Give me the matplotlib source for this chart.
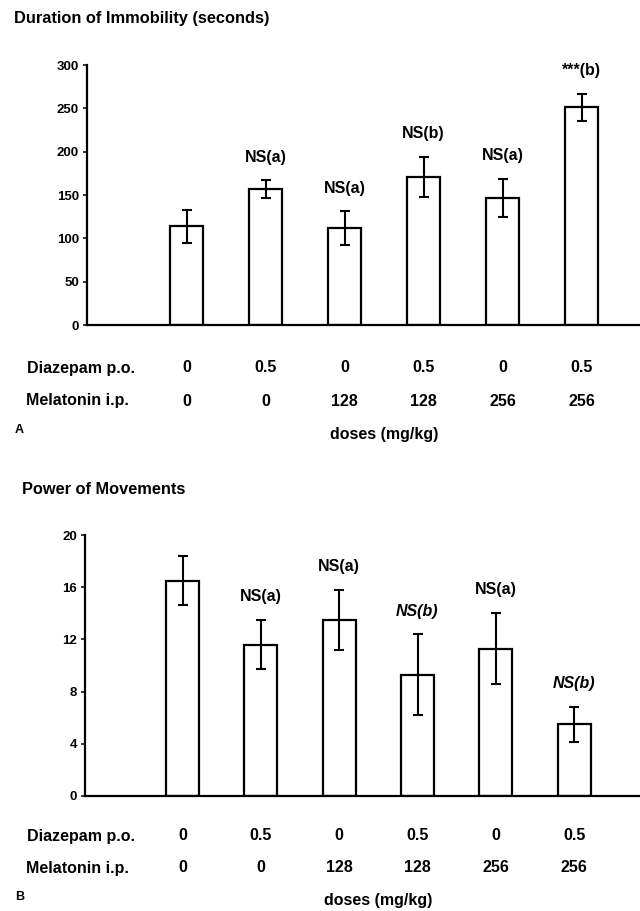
import matplotlib
matplotlib.use('Agg')
import matplotlib.pyplot as plt
from matplotlib import transforms

plt.rcParams['font.family'] = ['Liberation Sans', 'DejaVu Sans']
plt.rcParams['font.weight'] = 'bold'

# dose table (same for both panels)
diazepam = ['0', '0.5', '0', '0.5', '0', '0.5']
melatonin = ['0', '0', '128', '128', '256', '256']

# panel A: duration of immobility (seconds)
immobility = [114, 157, 112, 171, 147, 251]
immobility_err = [19, 10, 19.5, 23, 22, 16]
immobility_sig = ['', 'NS(a)', 'NS(a)', 'NS(b)', 'NS(a)', '***(b)']

# panel B: power of movements
power = [16.5, 11.6, 13.5, 9.3, 11.3, 5.5]
power_err = [1.9, 1.9, 2.3, 3.1, 2.75, 1.35]
power_sig = ['', 'NS(a)', 'NS(a)', 'NS(b)', 'NS(a)', 'NS(b)']

W, H = 640, 911


def fx(px):
    return px / W


def fy(py):
    return 1 - py / H


fig = plt.figure(figsize=(6.4, 9.11), dpi=100)


def panel(left, top, bottom, values, errs, sig, ymax, yticks, xlim,
          title, title_xy, letter, rows_y, italic_b=False):
    ax = fig.add_axes([fx(left), fy(bottom), 1 - fx(left), fy(top) - fy(bottom)])
    x = list(range(len(values)))
    ax.bar(x, values, width=0.42, color='white', edgecolor='black', linewidth=1.6, zorder=2)
    ax.errorbar(x, values, yerr=errs, fmt='none', ecolor='black', elinewidth=1.5,
                capsize=3.6, capthick=1.5, zorder=3)
    for xi, v, e, s in zip(x, values, errs, sig):
        if not s:
            continue
        style = 'italic' if (italic_b and '(b)' in s) else 'normal'
        ax.annotate(s, (xi, v + e), xytext=(0, 16.5), textcoords='offset points',
                    ha='center', va='center', fontsize=11.5, fontstyle=style)
    ax.set_xlim(*xlim)
    ax.set_ylim(0, ymax)
    ax.set_yticks(yticks)
    ax.set_xticks([])
    for sp in ['top', 'right']:
        ax.spines[sp].set_visible(False)
    ax.spines['left'].set_linewidth(1.6)
    ax.spines['bottom'].set_linewidth(1.6)
    ax.tick_params(axis='y', direction='out', length=3, width=1.1, pad=2.5, labelsize=9.5)

    # titles and dose table
    fig.text(fx(title_xy[0]), fy(title_xy[1]), title, fontsize=11.8, va='center')
    trans = transforms.blended_transform_factory(ax.transData, fig.transFigure)
    fig.text(fx(27), fy(rows_y[0]), 'Diazepam p.o.', fontsize=11.5, va='center')
    fig.text(fx(26), fy(rows_y[1]), 'Melatonin i.p.', fontsize=11.5, va='center')
    for xi, d, m in zip(x, diazepam, melatonin):
        ax.text(xi, fy(rows_y[0]), d, transform=trans, ha='center', va='center', fontsize=11.5)
        ax.text(xi, fy(rows_y[1]), m, transform=trans, ha='center', va='center', fontsize=11.5)
    fig.text(fx(15), fy(rows_y[2]), letter, fontsize=9, va='center')
    ax.text(2.5, fy(rows_y[2] + 4), 'doses (mg/kg)', transform=trans,
            ha='center', va='center', fontsize=11.5)
    return ax


panel(86.5, 65, 325, immobility, immobility_err, immobility_sig, 300,
      [0, 50, 100, 150, 200, 250, 300], (-1.266, 5.74),
      'Duration of Immobility (seconds)', (14, 19), 'A', (368, 401, 430))

panel(85, 535, 796, power, power_err, power_sig, 20,
      [0, 4, 8, 12, 16, 20], (-1.245, 5.84),
      'Power of Movements', (22, 490), 'B', (836, 868, 897), italic_b=True)

fig.savefig('out.png', dpi=100)
